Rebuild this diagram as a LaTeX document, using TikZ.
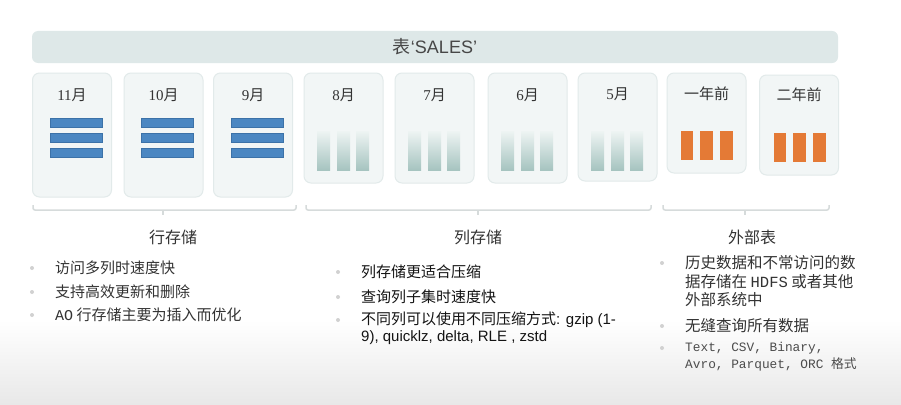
\documentclass[tikz,border=0pt]{standalone}
\usepackage{fontspec}
\setmainfont{Liberation Serif}
\setsansfont{Liberation Sans}
\setmonofont{Liberation Mono}
\newfontfamily\cjk{Noto Sans CJK SC}
\usetikzlibrary{calc}
\definecolor{barbg}{HTML}{DEE8E8}
\definecolor{cardbg}{HTML}{F2F6F6}
\definecolor{cardline}{HTML}{E2EAEA}
\definecolor{rowblue}{HTML}{4B87C2}
\definecolor{rowedge}{HTML}{3C72A8}
\definecolor{coltop}{HTML}{EEF4F3}
\definecolor{colbot}{HTML}{A6C4C0}
\definecolor{extorange}{HTML}{E47A36}
\definecolor{brk}{HTML}{D6DBDB}
\definecolor{labeltext}{HTML}{333333}
\tikzset{
	card/.style={draw=cardline, fill=cardbg, line width=1pt, rounded corners=7pt, minimum width=79pt, inner sep=0pt},
	month/.style={font=\fontsize{15}{18}\selectfont, text=labeltext, inner sep=0pt},
	head/.style={font=\cjk\fontsize{16}{19}\selectfont, text=labeltext},
	item/.style={anchor=west, align=left, inner sep=0pt, font=\cjk\fontsize{15}{17.5}\selectfont},
	dot/.style={fill=black!18},
	bracket/.style={draw=brk, line width=1.5pt, rounded corners=2pt}
}
% bars inside a card, #1 = centre x of the card
\def\rowbars#1{%
	\draw[fill=rowblue, draw=rowedge, line width=0.6pt] (#1-24,118) rectangle (#1+28,127);
	\draw[fill=rowblue, draw=rowedge, line width=0.6pt] (#1-24,133) rectangle (#1+28,142);
	\draw[fill=rowblue, draw=rowedge, line width=0.6pt] (#1-24,148) rectangle (#1+28,157);}
\def\colbars#1{%
	\shade[top color=coltop, bottom color=colbot] (#1-26.5,131) rectangle (#1-13.5,170);
	\shade[top color=coltop, bottom color=colbot] (#1-6.5,131) rectangle (#1+6.5,170);
	\shade[top color=coltop, bottom color=colbot] (#1+12.5,131) rectangle (#1+25.5,170);}
\def\extbars#1#2{%
	\fill[extorange] (#1-25.5,#2) rectangle (#1-13.5,#2+29);
	\fill[extorange] (#1-6.5,#2) rectangle (#1+6.5,#2+29);
	\fill[extorange] (#1+13.5,#2) rectangle (#1+26.5,#2+29);}

\begin{document}
\begin{tikzpicture}[x=1pt, y=-1pt]
			%%%%% START %%%%%
			\useasboundingbox (0,0) rectangle (901,404);
			\fill[white] (0,0) rectangle (901,404);
			\shade[top color=white, bottom color=black!9] (0,320) rectangle (901,404);
			
			\node[fill=barbg, rounded corners=6pt, minimum width=806pt, minimum height=32pt, font=\fontsize{18}{21}\selectfont, text=black!72] (title) at (435,47) {{\cjk 表}{\sffamily ‘SALES’}};
			
			% row storage
			\node[card, minimum height=124pt] (c11) at (72,135) {};
			\node[card, minimum height=124pt] (c10) at (163.5,135) {};
			\node[card, minimum height=124pt] (c9) at (253,135) {};
			\node[month] (l11) at (72,95) {11{\cjk 月}};
			\node[month] (l10) at (163.5,95) {10{\cjk 月}};
			\node[month] (l9) at (253,95) {9{\cjk 月}};
			\rowbars{74}
			\rowbars{165.5}
			\rowbars{255}
			
			% column storage
			\node[card, minimum height=110pt] (c8) at (343.5,128) {};
			\node[card, minimum height=110pt] (c7) at (434.5,128) {};
			\node[card, minimum height=110pt] (c6) at (527.5,128) {};
			\node[card, minimum height=108pt] (c5) at (617.5,127) {};
			\node[month] (l8) at (343.5,95) {8{\cjk 月}};
			\node[month] (l7) at (434.5,95) {7{\cjk 月}};
			\node[month] (l6) at (527.5,95) {6{\cjk 月}};
			\node[month] (l5) at (617.5,94) {5{\cjk 月}};
			\colbars{343.5}
			\colbars{434.5}
			\colbars{527.5}
			\colbars{617.5}
			
			% external
			\node[card, minimum height=100pt] (cy1) at (706.5,123) {};
			\node[card, minimum height=100pt] (cy2) at (799,125) {};
			\node[month, font=\cjk\fontsize{15}{18}\selectfont] (ly1) at (706.5,94) {一年前};
			\node[month, font=\cjk\fontsize{15}{18}\selectfont] (ly2) at (799,95) {二年前};
			\extbars{706.5}{131}
			\extbars{799}{133}
			
			% brackets
			\draw[bracket] (33,205) -- (33,210) -- (296,210) -- (296,205);
			\draw[bracket] (163,210) -- (163,215);
			\draw[bracket] (306,205) -- (306,210) -- (651,210) -- (651,205);
			\draw[bracket] (478,210) -- (478,215);
			\draw[bracket] (663,205) -- (663,210) -- (829,210) -- (829,205);
			\draw[bracket] (745,210) -- (745,215);
			
			\node[head] (hrow) at (173,237) {行存储};
			\node[head] (hcol) at (478,237) {列存储};
			\node[head] (hext) at (752,237) {外部表};
			
			% row text
			\fill[dot] (32,268) circle (2);
			\fill[dot] (32,292) circle (2);
			\fill[dot] (32,315) circle (2);
			\node[item, text=black!80] (r1) at (55,268) {访问多列时速度快};
			\node[item, text=black!80] (r2) at (55,292) {支持高效更新和删除};
			\node[item, text=black!80] (r3) at (55,315) {{\ttfamily AO} 行存储主要为插入而优化};
			
			% column text
			\fill[dot] (338,272) circle (2);
			\fill[dot] (338,297) circle (2);
			\fill[dot] (338,320) circle (2);
			\node[item, text=black!92] (k1) at (361,272) {列存储更适合压缩};
			\node[item, text=black!92] (k2) at (361,297) {查询列子集时速度快};
			\node[item, text=black!92, font=\cjk\fontsize{15}{17}\selectfont] (k3) at (361,328.5) {不同列可以使用不同压缩方式{\sffamily : gzip (1-}\\{\sffamily 9), quicklz, delta, RLE , zstd}};
			
			% external text
			\fill[dot] (662,263) circle (2);
			\fill[dot] (662,326) circle (2);
			\fill[dot] (662,348) circle (2);
			\node[item, text=black!80, font=\cjk\fontsize{15.5}{18.5}\selectfont] (e1) at (685,281.5) {历史数据和不常访问的数\\据存储在 {\ttfamily HDFS} 或者其他\\外部系统中};
			\node[item, text=black!80, font=\cjk\fontsize{15.5}{18.5}\selectfont] (e2) at (685,326) {无缝查询所有数据};
			\node[item, text=black!70, font=\ttfamily\fontsize{12.8}{17}\selectfont] (e3) at (685,356.5) {Text, CSV, Binary,\\Avro, Parquet, ORC {\cjk 格式}};
			
			%%%%% END %%%%%
\end{tikzpicture}
\end{document}
